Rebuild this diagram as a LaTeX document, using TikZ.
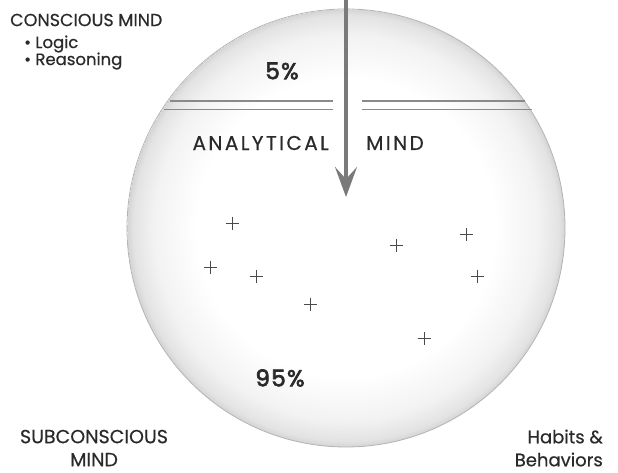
\documentclass[tikz,border=0pt]{standalone}
\usepackage{fontspec}
\setmainfont{Poppins}
\usepackage{tikz}
\usetikzlibrary{arrows.meta}

\definecolor{rimgray}{HTML}{B4B4B4}
\definecolor{linegray}{HTML}{8A8A8A}
\definecolor{arrowgray}{HTML}{7A7A7A}
\definecolor{textgray}{HTML}{2A2A2A}

\pgfdeclareradialshading{sphere}{\pgfpoint{0bp}{0bp}}{%
  color(0bp)=(white); color(17bp)=(white); color(22bp)=(gray!10);
  color(24.3bp)=(gray!22); color(25bp)=(gray!34)}

\tikzset{
  label/.style={text=textgray, inner sep=0pt, font=\fontsize{17.5}{17.5}\selectfont\addfontfeatures{FakeBold=0.4}},
  small/.style={text=textgray, inner sep=0pt, font=\fontsize{16.5}{16.5}\selectfont\addfontfeatures{FakeBold=0.6}},
  spaced/.style={label, font=\fontsize{20}{20}\selectfont\addfontfeatures{LetterSpace=12,FakeBold=0.4}},
  percent/.style={label, font=\fontsize{23}{23}\selectfont\addfontfeatures{LetterSpace=6,FakeBold=3}},
  divider/.style={draw=linegray, line width=1.6pt},
  cross/.style={draw=textgray!85, line width=0.9pt}
}

\begin{document}
\begin{tikzpicture}[x=1pt,y=-1pt]
\useasboundingbox[fill=white] (0,0) rectangle (618,472);

% the sphere
\shade[shading=sphere] (346,228) circle (219);
\draw[rimgray, line width=0.8pt] (346,228) circle (219);

% divider between the two minds
\draw[divider] (170,101) -- (333,101);
\draw[divider] (164,109.5) -- (333,109.5);
\draw[divider] (362,101) -- (525,101);
\draw[divider] (362,109.5) -- (532,109.5);

% arrow from the top
\coordinate (atop) at (346,0);
\coordinate (atip) at (346,197);
\draw[arrowgray, line width=3.2pt, -{Stealth[length=30pt,width=22pt,inset=12pt]}] (atop) -- (atip);

\node[label, anchor=west] (cm) at (10,20) {CONSCIOUS MIND};
\node[small, anchor=west] (lg) at (24,44) {• Logic};
\node[small, anchor=west] (rs) at (24,61) {• Reasoning};

\node[percent] (five) at (282,71) {5\%};
\node[spaced, anchor=east] (an) at (329,143) {ANALYTICAL};
\node[spaced, anchor=west] (md) at (366,143) {MIND};
\node[percent] (ninefive) at (280,378) {95\%};

\node[label, align=center, font=\fontsize{19}{23}\selectfont\addfontfeatures{FakeBold=0.4}] (sub) at (94,448) {SUBCONSCIOUS\\MIND};
\node[label, align=right, anchor=east, font=\fontsize{18}{23}\selectfont\addfontfeatures{FakeBold=0.4}] (hab) at (603,448) {Habits \&\\Behaviors};

% scattered crosses
\foreach \x/\y in {232/223, 210/267, 256/276, 310/304, 396/245, 466/234, 477/276, 424/338}
  \draw[cross] (\x-6.5,\y) -- (\x+6.5,\y) (\x,\y-6.5) -- (\x,\y+6.5);
\end{tikzpicture}
\end{document}
